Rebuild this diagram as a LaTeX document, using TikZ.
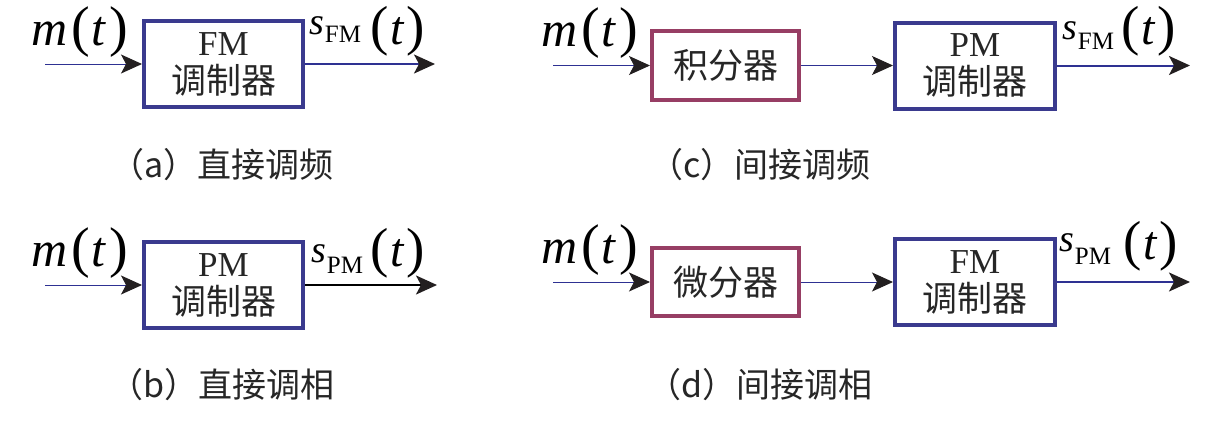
\documentclass[tikz,border=0pt]{standalone}
\usepackage{fontspec}
\setmainfont{Liberation Serif}
\newfontfamily\cjk{Noto Sans CJK SC}
\usetikzlibrary{arrows.meta}
\definecolor{bxblue}{HTML}{3A3A8E}
\definecolor{bxred}{HTML}{973E64}
\definecolor{lnblue}{HTML}{2E3192}
\definecolor{tipc}{HTML}{231F20}
\newcommand\mylp{{\fontsize{56}{56}\selectfont(}}
\newcommand\myrp{{\fontsize{56}{56}\selectfont)}}
\newcommand\mtlab{{\fontsize{50}{50}\selectfont\textit{m}\kern4pt\mylp\kern2pt\textit{t}\kern3pt\myrp}}
% #1 subscript, #2 subscript drop, #3 (t) drop, #4 gap
\newcommand\slab[4]{{\fontsize{38}{38}\selectfont\textit{s}\kern1pt\raisebox{-#2pt}{\fontsize{25}{25}\selectfont #1}\kern#4pt\raisebox{-#3pt}{\fontsize{48}{48}\selectfont{\fontsize{55}{55}\selectfont(}\kern2pt\textit{t}\kern2pt{\fontsize{55}{55}\selectfont)}}}}
\begin{document}
\begin{tikzpicture}[x=1pt,y=-1pt,
  box/.style={draw=bxblue,line width=4pt,align=center,inner sep=0pt,
    font=\fontsize{35}{38}\selectfont, text=black!85},
  mbox/.style={box,draw=bxred},
  inl/.style={draw=lnblue,line width=1pt,-{Stealth[length=21pt,width=19pt,inset=5pt,color=tipc]}},
  outl/.style={draw=lnblue,line width=2pt,-{Stealth[length=21pt,width=19pt,inset=5pt,color=tipc]}},
  captxt/.style={font=\cjk\fontsize{34}{34}\selectfont, text=black!85},
  lab/.style={anchor=base west,inner sep=0pt}]
\useasboundingbox (0,0) rectangle (1232,421);
% (a)
\node[box,minimum width=159pt,minimum height=86pt] (fa) at (223.5,64) {FM\\{\cjk 调制器}};
\coordinate (ia) at (45,64);
\coordinate (oa) at (435,64);
\draw[inl] (ia) -- (fa.west);
\draw[outl] (fa.east) -- (oa);
\node[lab] (ma) at (31,45) {\mtlab};
\node[lab] (sa) at (309,34) {\slab{FM}{8}{10}{9}};
\node[captxt] (ca) at (222,165) {（a）直接调频};
% (b)
\node[box,minimum width=159pt,minimum height=86pt] (pb) at (223.5,285) {PM\\{\cjk 调制器}};
\coordinate (ib) at (45,285);
\coordinate (ob) at (437,285);
\draw[inl] (ib) -- (pb.west);
\draw[outl,draw=black] (pb.east) -- (ob);
\node[lab] (mb) at (31,266) {\mtlab};
\node[lab] (sb) at (311,262) {\slab{PM}{11}{4}{7}};
\node[captxt] (cb) at (222,385) {（b）直接调相};
% (c)
\node[mbox,minimum width=147pt,minimum height=69pt] (ic) at (725.5,65.5) {\cjk 积分器};
\node[box,minimum width=160pt,minimum height=86pt] (pc) at (975,65.5) {PM\\{\cjk 调制器}};
\coordinate (inc) at (553,65.5);
\coordinate (oc) at (1190,65.5);
\draw[inl] (inc) -- (ic.west);
\draw[inl] (ic.east) -- (pc.west);
\draw[outl] (pc.east) -- (oc);
\node[lab] (mc) at (541,46) {\mtlab};
\node[lab] (sc) at (1062,39) {\slab{FM}{10}{5}{7}};
\node[captxt] (cc) at (760,165) {（c）间接调频};
% (d)
\node[mbox,minimum width=147pt,minimum height=68pt] (dd) at (725.5,282) {\cjk 微分器};
\node[box,minimum width=160pt,minimum height=86pt] (fd) at (975,282) {FM\\{\cjk 调制器}};
\coordinate (ind) at (553,282);
\coordinate (od) at (1190,282);
\draw[inl] (ind) -- (dd.west);
\draw[inl] (dd.east) -- (fd.west);
\draw[outl] (fd.east) -- (od);
\node[lab] (md) at (541,263) {\mtlab};
\node[lab] (sd) at (1059,251) {\slab{PM}{13}{8}{12}};
\node[captxt] (cd) at (760,385) {（d）间接调相};
\end{tikzpicture}
\end{document}
